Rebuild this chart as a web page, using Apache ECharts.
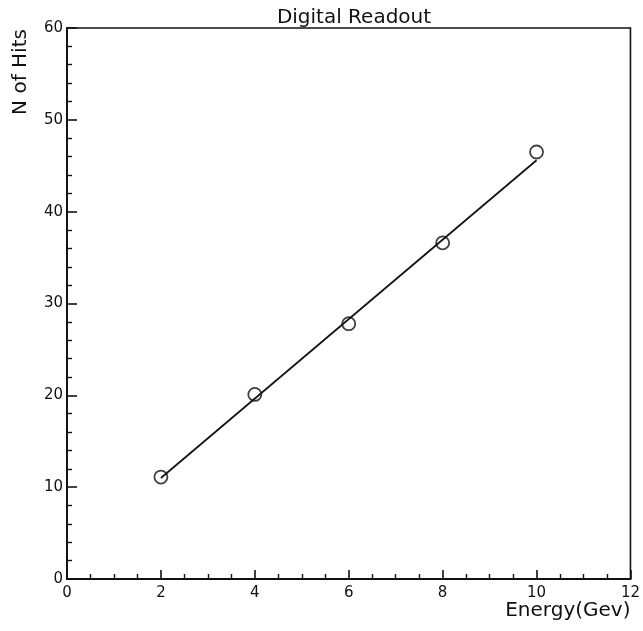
<!DOCTYPE html>
<html>
<head>
<meta charset="utf-8">
<script src="https://cdn.jsdelivr.net/npm/echarts@6/dist/echarts.min.js"></script>
<style>
html,body{margin:0;padding:0;background:#fff;}
#chart{width:643px;height:631px;}
</style>
</head>
<body>
<div id="chart"></div>
<script>
var energy = [2, 4, 6, 8, 10];
var hits = [11.1, 20.1, 27.8, 36.6, 46.5];
var fitX = [2, 10];
var fitY = [11.0, 45.6];
var xTicks = [0, 2, 4, 6, 8, 10, 12];
var yTicks = [0, 10, 20, 30, 40, 50, 60];
var titleText = 'Digital Readout';
var xName = 'Energy(Gev)';
var yName = 'N of Hits';

var font = 'DejaVu Sans';
var ink = '#111';

var chart = echarts.init(document.getElementById('chart'), null, {renderer: 'canvas'});
chart.setOption({
  backgroundColor: '#fff',
  animation: false,
  title: {
    text: titleText,
    left: 349, top: 3, textAlign: 'center',
    textStyle: {fontFamily: font, fontSize: 20, fontWeight: 'normal', color: ink}
  },
  grid: {
    left: 67, right: 12, top: 28, bottom: 52,
    show: true, borderColor: ink, borderWidth: 1.6, backgroundColor: 'transparent'
  },
  xAxis: {
    type: 'value', min: xTicks[0], max: xTicks[xTicks.length - 1], interval: 2,
    name: xName, nameLocation: 'end', nameGap: 0,
    nameTextStyle: {fontFamily: font, fontSize: 20, color: ink, align: 'right', verticalAlign: 'top', padding: [22, 0, 0, 0]},
    axisLine: {show: true, lineStyle: {color: ink, width: 1.8}},
    axisTick: {show: true, inside: true, length: 9, lineStyle: {color: ink, width: 1.6}},
    minorTick: {show: true, splitNumber: 4, length: 5, lineStyle: {color: ink, width: 1.4}},
    axisLabel: {fontFamily: font, fontSize: 15, color: ink, margin: 7},
    splitLine: {show: false}
  },
  yAxis: {
    type: 'value', min: yTicks[0], max: yTicks[yTicks.length - 1], interval: 10,
    axisLine: {show: true, lineStyle: {color: ink, width: 1.8}},
    axisTick: {show: true, inside: true, length: 10, lineStyle: {color: ink, width: 1.6}},
    minorTick: {show: true, splitNumber: 5, length: 5, lineStyle: {color: ink, width: 1.4}},
    axisLabel: {fontFamily: font, fontSize: 15, color: ink, margin: 4},
    splitLine: {show: false}
  },
  graphic: [{
    type: 'text',
    x: 21, y: 72, rotation: Math.PI / 2,
    style: {text: yName, font: '20px "DejaVu Sans"', fill: ink, align: 'center', verticalAlign: 'middle'}
  }],
  series: [
    {
      type: 'line',
      data: fitX.map(function (x, i) { return [x, fitY[i]]; }),
      showSymbol: false, symbol: 'none',
      lineStyle: {color: ink, width: 1.7},
      z: 2
    },
    {
      type: 'scatter',
      data: energy.map(function (x, i) { return [x, hits[i]]; }),
      symbol: 'circle', symbolSize: 13,
      itemStyle: {color: 'transparent', borderColor: ink, borderWidth: 1.8},
      z: 3
    }
  ]
});
</script>
</body>
</html>
